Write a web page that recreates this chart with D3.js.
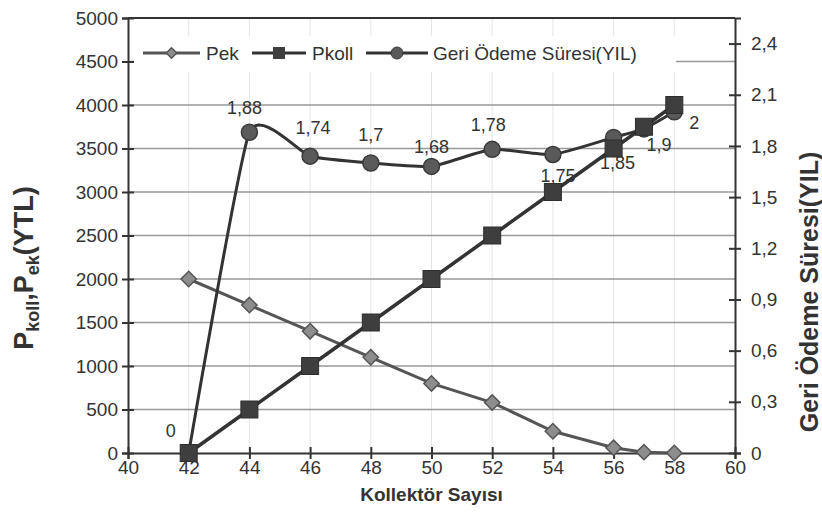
<!DOCTYPE html>
<html><head><meta charset="utf-8">
<script src="https://cdn.jsdelivr.net/npm/d3@7"></script>
<style>
html,body{margin:0;padding:0;background:#fff;}
text{font-family:"Liberation Sans",Arial,sans-serif;fill:#333;}
</style></head>
<body><svg id="c" width="822" height="526"></svg>
<script>
// ---- data ----
const pekX   = [42, 44, 46, 48, 50, 52, 54, 56, 57, 58];
const pekY   = [2000, 1700, 1400, 1100, 800, 580, 250, 60, 10, 0];
const pkollX = [42, 44, 46, 48, 50, 52, 54, 56, 57, 58];
const pkollY = [0, 500, 1000, 1500, 2000, 2500, 3000, 3500, 3750, 4000];
const geriX  = [42, 44, 46, 48, 50, 52, 54, 56, 57, 58];
const geriY  = [0, 1.88, 1.74, 1.7, 1.68, 1.78, 1.75, 1.85, 1.9, 2];
const xTicks = [40, 42, 44, 46, 48, 50, 52, 54, 56, 58, 60];
const yLTicks = [0, 500, 1000, 1500, 2000, 2500, 3000, 3500, 4000, 4500, 5000];
const yRTicks = [0, 0.3, 0.6, 0.9, 1.2, 1.5, 1.8, 2.1, 2.4];
const legendNames = ["Pek", "Pkoll", "Geri Ödeme Süresi(YIL)"];
// label offsets for the Geri series data labels (dx, dy)
const geriLabelOff = [[-18,-22],[-5,-24],[3,-28],[0,-28],[0,-19],[-4,-24],[5,22],[4,26],[15,16],[20,11]];

const svg = d3.select("#c");
const L = 128, R = 735, T = 18, B = 453;
const x = d3.scaleLinear().domain([40, 60]).range([L, R]);
const yL = d3.scaleLinear().domain([0, 5000]).range([B, T]);
const yR = d3.scaleLinear().domain([0, 2.55]).range([B, T]);
const fmt = d => String(d).replace(".", ",");

// vertical faint gridlines
svg.append("g").selectAll("line").data(xTicks.slice(1, -1)).join("line")
  .attr("x1", d => x(d)).attr("x2", d => x(d)).attr("y1", T).attr("y2", B)
  .attr("stroke", "#e6e6e6").attr("stroke-width", 1);
// horizontal gridlines
svg.append("g").selectAll("line").data(yLTicks.slice(1)).join("line")
  .attr("x1", L).attr("x2", R).attr("y1", d => yL(d)).attr("y2", d => yL(d))
  .attr("stroke", "#999").attr("stroke-width", 1.6);

// frame top
svg.append("line").attr("x1", L).attr("x2", R).attr("y1", T).attr("y2", T)
  .attr("stroke", "#333").attr("stroke-width", 2);

// axes
const axL = svg.append("g").attr("transform", `translate(${L},0)`)
  .call(d3.axisLeft(yL).tickValues(yLTicks).tickSize(6).tickPadding(5).tickFormat(d => d));
const axR = svg.append("g").attr("transform", `translate(${R},0)`)
  .call(d3.axisRight(yR).tickValues(yRTicks).tickSize(6).tickPadding(10).tickFormat(fmt));
const axB = svg.append("g").attr("transform", `translate(0,${B})`)
  .call(d3.axisBottom(x).tickValues(xTicks).tickSize(6).tickPadding(2).tickFormat(d => d));
[axL, axR, axB].forEach(a => {
  a.select(".domain").attr("stroke", "#333").attr("stroke-width", 2);
  a.selectAll(".tick line").attr("stroke", "#333").attr("stroke-width", 2);
  a.selectAll("text").attr("font-size", 19).attr("fill", "#3a3a3a").attr("font-family", "Liberation Sans, Arial, sans-serif");
});
// cross ticks
axL.selectAll(".tick line").attr("x1", 6);
axR.selectAll(".tick line").attr("x1", -6);
axB.selectAll(".tick line").attr("y1", -6);
axL.selectAll("text").attr("x", -10);

// series
const linePek = d3.line().x((d, i) => x(pekX[i])).y(d => yL(d));
const lineKoll = d3.line().x((d, i) => x(pkollX[i])).y(d => yL(d));
const lineGeri = d3.line().x((d, i) => x(geriX[i])).y(d => yR(d)).curve(d3.curveCardinal.tension(0.5));

svg.append("path").datum(pekY).attr("d", linePek).attr("fill", "none")
  .attr("stroke", "#555").attr("stroke-width", 3);
svg.append("g").selectAll("path").data(pekY).join("path")
  .attr("d", d3.symbol(d3.symbolDiamond2, 150)())
  .attr("transform", (d, i) => `translate(${x(pekX[i])},${yL(d)})`)
  .attr("fill", "#8d8d8d").attr("stroke", "#555").attr("stroke-width", 1.5);

svg.append("path").datum(geriY).attr("d", lineGeri).attr("fill", "none")
  .attr("stroke", "#333").attr("stroke-width", 3);
svg.append("g").selectAll("circle").data(geriY).join("circle")
  .attr("cx", (d, i) => x(geriX[i])).attr("cy", d => yR(d)).attr("r", 8)
  .attr("fill", "#5a5a5a").attr("stroke", "#3a3a3a").attr("stroke-width", 1.5);

svg.append("path").datum(pkollY).attr("d", lineKoll).attr("fill", "none")
  .attr("stroke", "#333").attr("stroke-width", 3.5);
svg.append("g").selectAll("rect").data(pkollY).join("rect")
  .attr("x", (d, i) => x(pkollX[i]) - 8.5).attr("y", d => yL(d) - 8.5)
  .attr("width", 17).attr("height", 17)
  .attr("fill", "#3e3e3e").attr("stroke", "#2e2e2e").attr("stroke-width", 1);

// data labels
svg.append("g").selectAll("text").data(geriY).join("text")
  .attr("x", (d, i) => x(geriX[i]) + geriLabelOff[i][0])
  .attr("y", (d, i) => yR(d) + geriLabelOff[i][1])
  .attr("text-anchor", "middle").attr("dominant-baseline", "central")
  .attr("font-size", 18).attr("fill", "#444").text(fmt);

// legend
const lg = svg.append("g");
lg.append("rect").attr("x", 134).attr("y", 36).attr("width", 542).attr("height", 36).attr("fill", "#fff");
const ly = 53;
const items = [{x1: 143, x2: 200, tx: 206}, {x1: 252, x2: 306, tx: 312}, {x1: 366, x2: 428, tx: 433}];
items.forEach((it, k) => {
  lg.append("line").attr("x1", it.x1).attr("x2", it.x2).attr("y1", ly).attr("y2", ly)
    .attr("stroke", k === 0 ? "#555" : "#333").attr("stroke-width", 3);
  const cx = (it.x1 + it.x2) / 2;
  if (k === 0) lg.append("path").attr("d", d3.symbol(d3.symbolDiamond2, 70)())
    .attr("transform", `translate(${cx},${ly})`).attr("fill", "#8d8d8d").attr("stroke", "#555").attr("stroke-width", 1.5);
  if (k === 1) lg.append("rect").attr("x", cx - 6).attr("y", ly - 6).attr("width", 12).attr("height", 12).attr("fill", "#3e3e3e");
  if (k === 2) lg.append("circle").attr("cx", cx).attr("cy", ly).attr("r", 6).attr("fill", "#5a5a5a").attr("stroke", "#3a3a3a");
  lg.append("text").attr("x", it.tx).attr("y", ly).attr("dominant-baseline", "central")
    .attr("font-size", 19).attr("fill", "#444").text(legendNames[k]);
});

// axis titles
svg.append("text").attr("x", (L + R) / 2).attr("y", 501).attr("text-anchor", "middle")
  .attr("font-size", 19).attr("font-weight", "bold").attr("fill", "#333").text("Kollektör Sayısı");
const lt = svg.append("text").attr("transform", "translate(33,268) rotate(-90)")
  .attr("text-anchor", "middle").attr("font-size", 27).attr("font-weight", "bold").attr("fill", "#333");
lt.append("tspan").text("P");
lt.append("tspan").attr("font-size", 18).attr("dy", 6).text("koll");
lt.append("tspan").attr("dy", -6).text(",P");
lt.append("tspan").attr("font-size", 18).attr("dy", 6).text("ek");
lt.append("tspan").attr("dy", -6).text("(YTL)");
svg.append("text").attr("transform", "translate(809,292) rotate(-90)")
  .attr("text-anchor", "middle").attr("dominant-baseline", "central")
  .attr("font-size", 25).attr("font-weight", "bold").attr("fill", "#333").text("Geri Ödeme Süresi(YIL)");
</script></body></html>
